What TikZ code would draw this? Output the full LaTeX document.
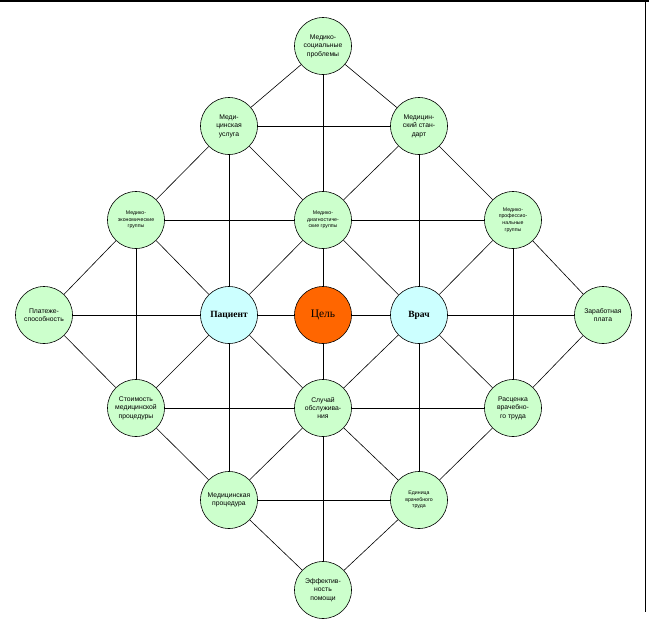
\documentclass[tikz,border=0pt]{standalone}
\usepackage{fontspec}
\setmainfont{Liberation Serif}
\newfontfamily\smallsans{Liberation Sans}
\definecolor{lgreen}{HTML}{CCFFCC}
\definecolor{lcyan}{HTML}{CCFFFF}
\definecolor{gorange}{HTML}{FF6600}
\begin{document}
\begin{tikzpicture}[x=1pt,y=-1pt,
  gnode/.style={circle,draw=black,line width=0.6pt,fill=lgreen,minimum size=57pt,inner sep=0pt,align=center,font=\smallsans\fontsize{6.8}{8.4}\selectfont},
  tnode/.style={gnode,font=\smallsans\fontsize{5.2}{6.6}\selectfont},
  cnode/.style={circle,draw=black,line width=0.6pt,fill=lcyan,minimum size=57pt,inner sep=0pt,align=center,font=\bfseries\fontsize{9.5}{10}\selectfont},
  onode/.style={circle,draw=black,line width=0.6pt,fill=gorange,minimum size=57pt,inner sep=0pt,align=center,font=\fontsize{11.5}{12}\selectfont},
  link/.style={draw=black,line width=0.6pt}]
\useasboundingbox (0,0) rectangle (649,627);
\draw[line width=1.5pt] (0,1) coordinate (fa) -- (649,1) coordinate (fb);
\coordinate (fc) at (645,0);
\coordinate (fd) at (645,612);
\draw[line width=1pt] (fc) -- (fd);

\node[gnode] (T) at (323,46) {Медико-\\социальные\\проблемы};
\node[gnode] (MU) at (229,126) {Меди-\\цинская\\услуга};
\node[gnode] (MS) at (419,126) {Медицин-\\ский стан-\\дарт};
\node[tnode] (MEG) at (136,220) {Медико-\\экономические\\группы};
\node[tnode] (MDG) at (323,220) {Медико-\\диагностиче-\\ские группы};
\node[tnode] (MPG) at (513,220) {Медико-\\профессио-\\нальные\\группы};
\node[gnode] (PL) at (44,315) {Платеже-\\способность};
\node[cnode] (PA) at (229,315) {Пациент};
\node[onode] (G) at (323,315) {Цель};
\node[cnode] (VR) at (419,315) {Врач};
\node[gnode] (ZP) at (603,315) {Заработная\\плата};
\node[gnode] (ST) at (136,408) {Стоимость\\медицинской\\процедуры};
\node[gnode] (SL) at (323,408) {Случай\\обслужива-\\ния};
\node[gnode] (RA) at (513,408) {Расценка\\врачебно-\\го труда};
\node[gnode] (MP) at (229,500) {Медицинская\\процедура};
\node[tnode] (ED) at (419,500) {Единица\\врачебного\\труда};
\node[gnode] (EF) at (323,590) {Эффектив-\\ность\\помощи};

\foreach \a/\b in {T/MU,T/MS,T/MDG,MU/MS,MU/MEG,MU/PA,MU/MDG,MS/MPG,MS/VR,MS/MDG,
  MEG/PL,MEG/MDG,MDG/MPG,MEG/ST,MEG/PA,MDG/G,MDG/PA,MDG/VR,MPG/ZP,MPG/RA,MPG/VR,
  PL/PA,PA/G,G/VR,VR/ZP,PA/ST,PA/MP,PA/SL,VR/SL,VR/RA,VR/ED,G/SL,
  ST/SL,SL/RA,PL/ST,ZP/RA,ST/MP,RA/ED,SL/MP,SL/ED,SL/EF,MP/ED,MP/EF,ED/EF}
  \draw[link] (\a) -- (\b);
\end{tikzpicture}
\end{document}
